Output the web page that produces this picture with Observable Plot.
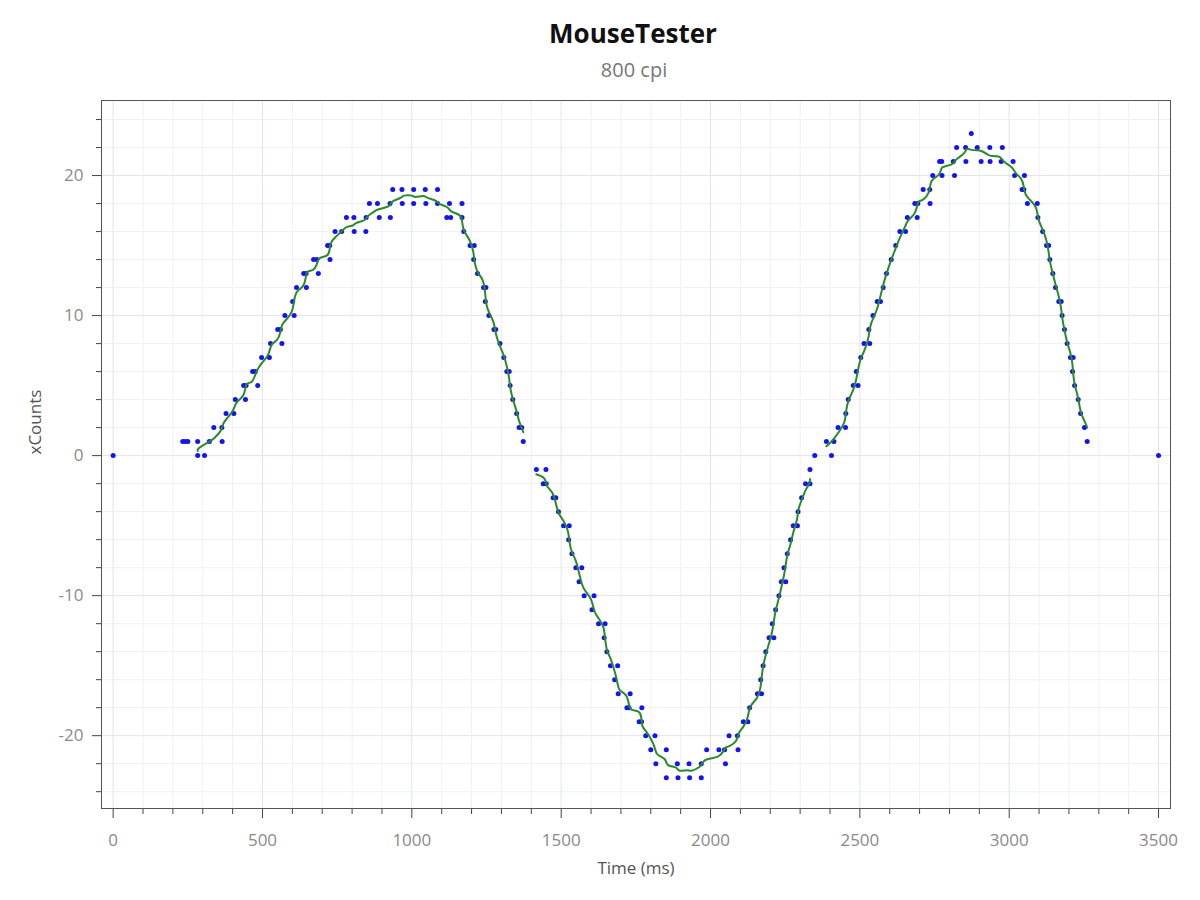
<!DOCTYPE html>
<html><head><meta charset="utf-8">
<script src="https://cdn.jsdelivr.net/npm/d3@7"></script>
<script src="https://cdn.jsdelivr.net/npm/@observablehq/plot@0.6"></script>
<style>body{margin:0;background:#fff;} #chart{width:1200px;height:900px;}</style>
</head><body><div id="chart"></div>
<script>
const title = "MouseTester";
const subtitle = "800 cpi";
const xLabel = "Time (ms)";
const yLabel = "xCounts";

const timeMs = [
  0,233,241,250,283,283,306,322,337,364,365,378,404,409,437,443,445,467,476,484,497,523,527,551,560,565,575,601,606,614,638,646,647,671,682,687,718,725,726,743,765,781,806,807,846,847,858,885,891,927,928,936,967,968,1006,1006,1045,1047,1086,1086,1117,1126,1130,1168,1168,1174,1195,1207,1209,1220,1240,1246,1248,1258,1275,1281,1295,1308,1318,1326,1329,1338,1351,1359,1368,1373,
  1417,1440,1449,1450,1473,1482,1491,1508,1525,1527,1536,1549,1560,1569,1577,1603,1610,1625,1644,1647,1653,1665,1679,1689,1691,1720,1727,1731,1761,1769,1770,1783,1800,1814,1817,1852,1852,1889,1891,1928,1930,1969,1969,1987,2028,2047,2050,2062,2090,2092,2110,2125,2131,2157,2168,2171,2176,2185,2196,2207,2212,2218,2229,2237,2246,2252,2257,2268,2277,2291,2293,2305,2318,2333,2333,2349,
  2388,2405,2413,2427,2452,2453,2461,2478,2488,2494,2503,2514,2530,2533,2544,2558,2569,2578,2589,2605,2620,2634,2653,2659,2684,2692,2694,2712,2734,2735,2744,2767,2774,2775,2813,2817,2824,2854,2855,2873,2893,2906,2935,2936,2973,2977,3013,3018,3043,3049,3051,3061,3094,3096,3112,3125,3132,3136,3146,3155,3166,3174,3177,3185,3194,3205,3212,3214,3219,3231,3239,3252,3261,3500
];
const xCounts = [
  0,1,1,1,1,0,0,1,2,2,1,3,3,4,5,4,5,6,6,5,7,7,8,9,9,8,10,11,10,12,13,13,12,14,14,13,15,15,14,16,16,17,17,16,16,17,18,18,17,18,17,19,19,18,19,18,19,18,19,18,17,18,17,18,17,16,15,14,15,13,12,11,12,10,9,9,8,7,6,6,5,4,3,2,2,1,
  -1,-2,-1,-2,-3,-3,-4,-5,-6,-5,-7,-8,-9,-8,-10,-11,-10,-12,-13,-12,-14,-15,-16,-15,-17,-18,-18,-17,-19,-19,-18,-20,-21,-20,-22,-21,-23,-22,-23,-22,-23,-22,-23,-21,-21,-21,-22,-20,-20,-21,-19,-19,-18,-17,-16,-17,-15,-14,-13,-12,-13,-11,-10,-9,-8,-9,-7,-6,-5,-5,-4,-3,-2,-2,-1,0,
  1,0,1,2,2,3,4,5,6,5,7,8,9,8,10,11,11,12,13,14,15,16,16,17,18,17,18,19,19,18,20,21,21,20,21,20,22,22,21,23,22,21,22,21,21,22,21,20,19,19,20,18,18,17,16,15,15,14,13,12,11,11,10,9,8,7,6,7,5,4,3,2,1,0
];
// time ranges [start, end] covered by the smoothed (green) line
const lineSegments = [[283, 1373], [1417, 2333], [2388, 3261]];

const xMajorTicks = [0, 500, 1000, 1500, 2000, 2500, 3000, 3500];
const yMajorTicks = [-20, -10, 0, 10, 20];
const xMinorTicks = d3.range(0, 3501, 100).filter(v => v % 500 !== 0);
const yMinorTicks = d3.range(-24, 25, 2).filter(v => v % 10 !== 0);

const points = timeMs.map((t, i) => ({t, v: xCounts[i]}));
const linePts = [];
lineSegments.forEach(([a, b], s) => {
  points.filter(p => p.t >= a && p.t <= b)
    .sort((p, q) => p.t - q.t)
    .forEach(p => linePts.push({...p, seg: s}));
});

const font = "'Open Sans', 'Noto Sans', sans-serif";
const chart = Plot.plot({
  width: 1200, height: 900,
  marginTop: 100, marginBottom: 92, marginLeft: 101, marginRight: 30,
  style: {fontFamily: font, background: "#fff"},
  x: {domain: [-39, 3540]},
  y: {domain: [-25.2, 25.36]},
  marks: [
    Plot.gridX({ticks: xMinorTicks, stroke: "#eff1f6", strokeOpacity: 1}),
    Plot.gridY({ticks: yMinorTicks, stroke: "#eff1f6", strokeOpacity: 1}),
    Plot.gridX({ticks: xMajorTicks, stroke: "#e0e4ec", strokeOpacity: 1}),
    Plot.gridY({ticks: yMajorTicks, stroke: "#e0e4ec", strokeOpacity: 1}),
    Plot.axisX({ticks: xMinorTicks, tickSize: 6, tickFormat: () => "", stroke: "#444", label: null}),
    Plot.axisY({ticks: yMinorTicks, tickSize: 5, tickFormat: () => "", stroke: "#444", label: null}),
    Plot.axisX({ticks: xMajorTicks, tickSize: 10, tickPadding: 15, fontSize: 17, stroke: "#444", fill: "#8a8a8a", label: null, tickFormat: d => String(d)}),
    Plot.axisY({ticks: yMajorTicks, tickSize: 9, tickPadding: 9, fontSize: 17, stroke: "#444", fill: "#8a8a8a", label: null, tickFormat: d => String(d)}),
    Plot.frame({stroke: "#555"}),
    Plot.dot(points, {x: "t", y: "v", r: 2.5, fill: "#1414f0", stroke: null}),
    Plot.lineY(linePts, Plot.windowY({k: 5, anchor: "middle"}, {x: "t", y: "v", z: "seg", stroke: "#2b8a2b", strokeWidth: 2, curve: "basis"})),
    Plot.text([title], {text: d => d, frameAnchor: "top", dy: -76, dx: -3, fontSize: 26, fontWeight: "bold", fill: "#111"}),
    Plot.text([subtitle], {text: d => d, frameAnchor: "top", dy: -38, dx: -2, fontSize: 20, fill: "#777"}),
    Plot.text([xLabel], {text: d => d, frameAnchor: "bottom", dy: 65, fontSize: 17, fill: "#555"}),
    Plot.text([yLabel], {text: d => d, frameAnchor: "left", dx: -66, rotate: -90, fontSize: 17, fill: "#555"})
  ]
});
document.getElementById("chart").appendChild(chart);
</script>
</body></html>
